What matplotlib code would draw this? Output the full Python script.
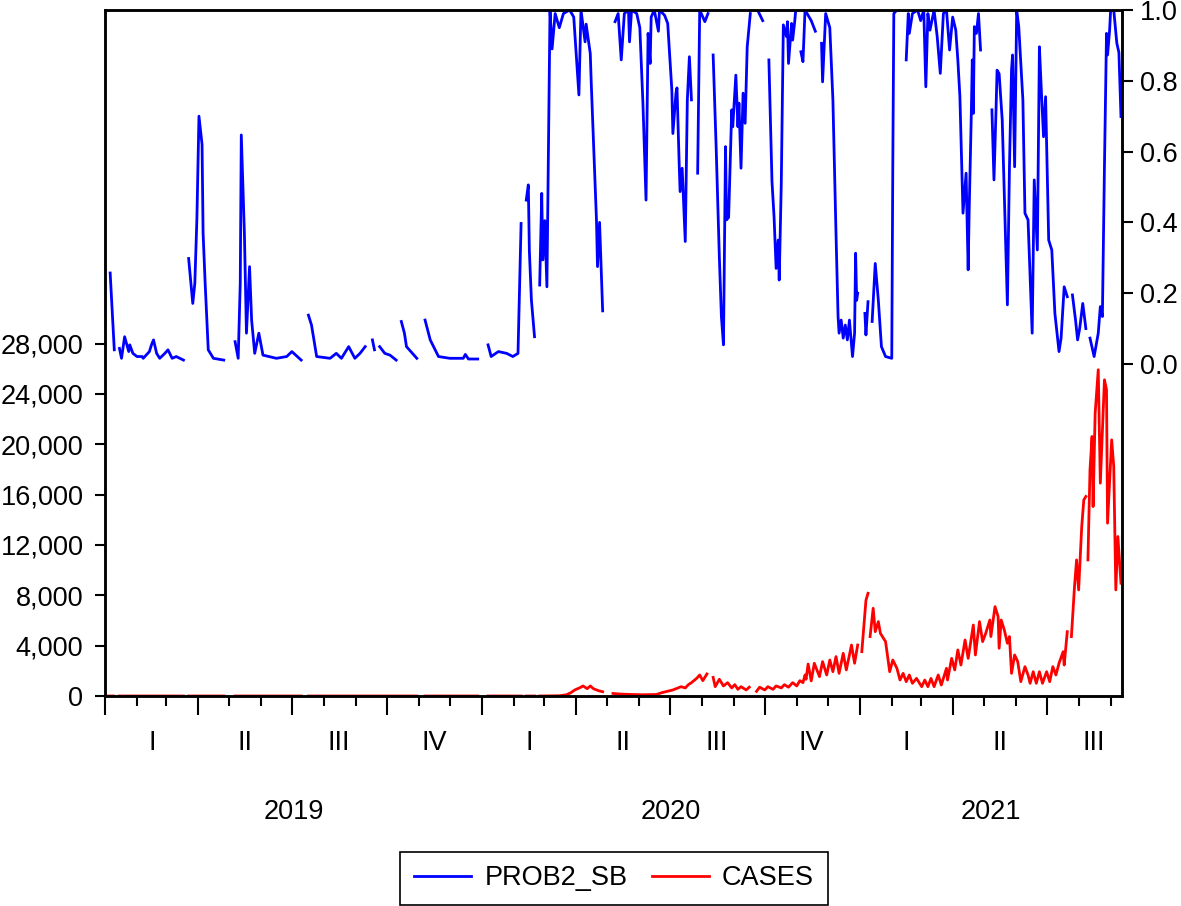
import numpy as np
import matplotlib.pyplot as plt
import matplotlib.dates as mdates
from matplotlib.ticker import FuncFormatter, NullFormatter

plt.rcParams['font.family'] = ['Liberation Sans', 'DejaVu Sans']
plt.rcParams['font.size'] = 19.5

START = np.datetime64('2019-01-01')
END = np.datetime64('2021-09-12')

# PROB2_SB (right axis): days since 2019-01-01, None = missing observation
prob_day = [
    5, 9, 11,
    14, 16, 19, 23, 24, 27, 31, 36, 37, 43, 45, 47, 50, 53, 58, 61, 65, 69, 76, 78,
    81, 85, 87, 89, 91, 94, 95, 97, 100, 105, 115, 120,
    126, 129, 131, 132, 135, 137, 140, 142, 145, 149, 153, 166, 176, 181, 190, 193,
    197, 200, 205, 218, 224, 229, 236, 242, 247, 252, 256,
    259, 261, 263,
    266, 271, 276, 282, 284,
    287, 290, 292, 302, 306,
    310, 315, 323, 334, 347, 349, 352, 361, 366,
    371, 374, 381, 389, 395, 400, 403, 405,
    408, 410, 411, 413, 416, 418,
    421, 423, 424, 426, 428, 431, 433, 436, 440, 444, 450, 454, 459, 461, 465, 466,
    470, 471, 474, 476, 477, 479, 482, 488,
    494, 497, 500, 503, 507, 508, 510, 515, 518, 521, 524, 526, 528, 529, 532, 536,
    537, 542, 545, 549, 550, 553, 554, 556, 557, 559, 562, 564, 566, 568, 571,
    574, 576, 581, 584, 586,
    589, 592, 595, 597, 599, 601, 602, 604, 607, 608, 611, 613, 614, 616, 618, 620,
    622, 625, 628,
    632, 637, 640,
    643, 645, 646, 648, 650, 652, 653, 655, 657, 660, 661, 662, 665, 666, 668, 669, 671,
    674, 676, 678, 680, 684, 688, 691,
    694, 695, 698, 702, 705, 708, 710, 711, 713, 715, 717, 719, 721, 724, 726, 727,
    728, 729, 732,
    736, 737, 739, 741,
    743, 746, 749, 752, 756, 762, 763, 764, 767, 770, 773,
    776, 778, 779, 782, 787, 790, 793, 795, 797, 799, 803, 806, 809, 812, 815, 818,
    821, 824, 826, 828, 830, 831, 834, 836, 837, 839, 840, 841, 842, 844, 846, 848, 853,
    859, 861, 863, 864, 866, 869, 872, 874, 876, 878, 879, 881, 883, 885, 889, 891,
    894, 898, 900, 903, 905, 907, 909, 911, 914, 917, 920, 924, 926, 929, 932, 934,
    937, 940, 942, 944, 947, 950, 952,
    954, 958, 962, 964, 966, 968, 970, 971, 973, 974, 977, 980, 982, 984,
]
prob_val = [
    0.257, 0.04, None,
    0.044, 0.016, 0.077, 0.035, 0.054, 0.03, 0.021, 0.021, 0.016, 0.035, 0.054, 0.068,
    0.03, 0.016, 0.03, 0.04, 0.016, 0.021, 0.011, None,
    0.298, 0.171, 0.228, 0.41, 0.70, 0.62, 0.37, 0.228, 0.04, 0.016, 0.011, None,
    0.063, 0.016, 0.228, 0.647, 0.37, 0.087, 0.275, 0.124, 0.03, 0.087, 0.025, 0.016,
    0.021, 0.035, 0.011, None,
    0.138, 0.11, 0.021, 0.016, 0.03, 0.016, 0.049, 0.016, 0.03, 0.049, None,
    0.068, 0.04, None,
    0.049, 0.03, 0.025, 0.011, None,
    0.12, 0.087, 0.049, 0.016, None,
    0.124, 0.068, 0.021, 0.016, 0.016, 0.027, 0.014, 0.014, None,
    0.054, 0.021, 0.035, 0.03, 0.021, 0.03, 0.397, None,
    0.463, 0.506, 0.32, 0.18, 0.077, None,
    0.223, 0.482, 0.294, 0.405, 0.218, 1.0, 0.89, 0.99, 0.95, 0.99, 1.0, 0.98, 0.76,
    1.0, 0.91, 0.96, 0.877, 0.79, 0.557, 0.407, 0.275, 0.40, 0.15, None,
    0.967, 0.99, 0.859, 0.99, 1.0, 0.91, 1.0, 0.99, 0.95, 0.737, 0.463, 0.934, 0.849,
    0.98, 1.0, 0.94, 1.0, 0.985, 0.962, 0.774, 0.651, 0.765, 0.78, 0.576, 0.487, 0.553,
    0.346, 0.746, 0.868, 0.746, None,
    0.539, 1.0, 0.967, 0.99, None,
    0.873, 0.605, 0.303, 0.134, 0.054, 0.614, 0.407, 0.414, 0.718, 0.67, 0.816, 0.67,
    0.737, 0.553, 0.765, 0.68, 0.896, 0.99, None,
    1.0, 0.97, None,
    0.859, 0.623, 0.515, 0.416, 0.27, 0.35, 0.237, 0.51, 0.958, 0.925, 0.967, 0.849,
    0.962, 0.915, 0.967, 1.0, None,
    0.882, 0.854, 1.0, 0.99, 0.97, 0.94, None,
    0.906, 0.797, 0.99, 0.95, 0.746, 0.369, 0.134, 0.087, 0.124, 0.073, 0.11, 0.068,
    0.124, 0.021, 0.087, 0.313, 0.18, 0.2, None,
    0.143, 0.082, 0.176, None,
    0.12, 0.284, 0.18, 0.049, 0.021, 0.016, 0.557, 0.99, 1.0, 1.0, None,
    0.859, 0.99, 0.934, 0.99, 1.0, 0.97, 1.0, 0.783, 0.99, 0.943, 1.0, 0.925, 0.821,
    0.99, 1.0, 0.887, 0.98, 0.943, 0.859, 0.755, 0.529, 0.426, 0.539, 0.266, 0.435,
    0.699, 0.859, 0.708, 0.953, 0.934, 0.99, 0.887, None,
    0.718, 0.52, 0.718, 0.83, 0.82, 0.689, 0.369, 0.167, 0.557, 0.831, 0.873, 0.557,
    1.0, 0.953, 0.746, 0.426, 0.407, 0.087, 0.52, 0.322, 0.896, 0.765, 0.642, 0.755,
    0.35, 0.322, 0.143, 0.035, 0.073, 0.218, 0.19, None,
    0.195, 0.124, 0.068, 0.1, 0.171, 0.1, None,
    0.073, 0.021, 0.087, 0.162, 0.134, 0.557, 0.934, 0.873, 0.943, 1.0, 1.0, 0.906,
    0.88, 0.699,
]

# CASES (left axis): days since 2019-01-01, None = missing observation
cases_day = [
    0, 8, 11, 14, 76, 78, 81, 115, 120, 126, 190, 193, 197, 302, 306,
    310, 361, 366, 371, 403, 405, 408, 416, 418,
    421, 440, 447, 451, 455, 460, 463, 467, 470, 473, 478, 482, 488,
    492, 500, 510, 520, 534, 540, 545, 550, 555, 558, 562, 565, 568, 573, 576, 579,
    583, 586,
    589, 591, 595, 599, 603, 607, 610, 613, 616, 621, 624, 628,
    631, 634, 639, 642, 647, 650, 655, 658, 662, 666, 670, 673, 676, 678, 679, 681,
    684, 687, 692, 695, 699, 702, 705, 708, 711, 715, 718, 723, 726, 729, 731,
    733, 737, 739, 740,
    741, 744, 746, 749, 751, 756, 760, 763, 767, 770, 773, 776, 779, 782, 786, 791,
    794, 797, 800, 803, 807, 810, 815, 816, 820, 823, 826, 829, 833, 836, 841, 843,
    847, 850, 853, 857, 858, 862, 865, 866, 868, 871, 874, 876, 878, 881, 884, 887,
    891, 894, 896, 899, 902, 905, 908, 912, 915, 918, 921, 924, 928, 929, 932, 934,
    936, 939, 941, 943, 946, 948, 950, 951,
    952, 954, 956, 957, 959, 962, 964, 968, 970, 971, 975, 977, 979, 981, 984,
]
cases_val = [
    0, 0, None, 0, 0, None, 0, 0, None, 0, 0, None, 0, 0, None,
    0, 0, None, 0, 0, None, 0, 0, None,
    0, 20, 100, 250, 480, 660, 800, 580, 800, 580, 420, 340, None,
    200, 150, 120, 100, 120, 280, 380, 480, 640, 740, 640, 900, 1060, 1400, 1670, 1220,
    1750, None,
    1480, 740, 1330, 800, 1060, 640, 900, 530, 740, 480, 700, None,
    370, 700, 480, 740, 530, 800, 640, 900, 700, 1060, 800, 1220, 1060, 1670, 1330, 2540,
    1200, 2600, 1540, 2730, 1670, 2860, 1930, 3130, 1800, 3390, 2070, 4050, 2600, 4050,
    None,
    3520, 7600, 8160, None,
    4720, 6970, 5110, 5910, 4980, 4320, 1930, 2860, 2200, 1270, 1800, 1140, 1670, 1010,
    1400, 740, 1270, 740, 1400, 740, 1670, 870, 2200, 1270, 2990, 2070, 3660, 2460,
    4450, 2990, 5640, 3260, 5910, 4320, 4980, 6040, 4720, 7100, 6310, 3790, 6040, 5250,
    4190, 4720, 1800, 3260, 2730, 1140, 2330, 1670, 1010, 1930, 1010, 1930, 1010, 1930,
    1140, 2330, 1670, 2600, 3520, 2460, 5110, None,
    4720, 8690, 10810, 8430, 13460, 15580, 15850, None,
    10810, 17970, 20620, 15050, 22470, 25920, 16910, 25120, 24330, 13730, 20350, 18230,
    8430, 12670, 8960,
]

left_ticks = [0, 4000, 8000, 12000, 16000, 20000, 24000, 28000]
right_ticks = [0.0, 0.2, 0.4, 0.6, 0.8, 1.0]
quarter_names = ['I', 'II', 'III', 'IV']
years = [2019, 2020, 2021]

prob_x = START + np.array(prob_day).astype('timedelta64[D]')
prob_y = np.array(prob_val, dtype=float)
cases_x = START + np.array(cases_day).astype('timedelta64[D]')
cases_y = np.array(cases_val, dtype=float)

fig = plt.figure(figsize=(11.81, 9.06), dpi=100)
ax = fig.add_axes([105 / 1181, 1 - 696 / 906, 1017 / 1181, 686 / 906])
ax2 = ax.twinx()

l_cases, = ax.plot(cases_x, cases_y, color='#ff0000', lw=2.0, label='CASES')
l_prob, = ax2.plot(prob_x, prob_y, color='#0000ff', lw=2.0, label='PROB2_SB')

ax.set_xlim(START, END)
ax.set_ylim(0, 54500)
ax2.set_ylim(-0.938, 1.0)

ax.set_yticks(left_ticks)
ax.yaxis.set_major_formatter(FuncFormatter(lambda v, p: f'{v:,.0f}'))
ax2.set_yticks(right_ticks)
ax2.yaxis.set_major_formatter(FuncFormatter(lambda v, p: f'{v:.1f}'))

ax.xaxis.set_major_locator(mdates.MonthLocator(bymonth=[1, 4, 7, 10]))
ax.xaxis.set_minor_locator(mdates.MonthLocator())
ax.xaxis.set_major_formatter(NullFormatter())
ax.xaxis.set_minor_formatter(NullFormatter())

ax.tick_params(axis='x', which='major', direction='out', length=14, width=1.5)
ax.tick_params(axis='x', which='minor', direction='out', length=7, width=1.5)
ax.tick_params(axis='y', direction='out', length=7.5, width=1.5, pad=8)
ax2.tick_params(axis='y', direction='out', length=8, width=1.5, pad=5)

for a in (ax, ax2):
    for s in a.spines.values():
        s.set_linewidth(1.8)

# quarter and year labels under the axis
trans = ax.get_xaxis_transform()
for yr in years:
    for q, name in enumerate(quarter_names):
        qs = np.datetime64(f'{yr}-{3 * q + 1:02d}-01')
        if qs >= END:
            break
        ax.text(mdates.date2num(qs) + 45.5, -0.0685, name, transform=trans,
                ha='center', va='center')
    y0 = mdates.date2num(np.datetime64(f'{yr}-01-01'))
    y1 = mdates.date2num(min(np.datetime64(f'{yr + 1}-01-01'), END))
    ax.text((y0 + y1) / 2, -0.169, str(yr), transform=trans, ha='center', va='center')

leg = fig.legend([l_prob, l_cases], ['PROB2_SB', 'CASES'], loc='lower center',
                 bbox_to_anchor=(614 / 1181, 1 / 906), ncol=2, frameon=True,
                 fancybox=False, edgecolor='black', framealpha=1,
                 handlelength=2.1, handletextpad=0.5, columnspacing=0.9,
                 borderpad=0.5, borderaxespad=0)
leg.get_frame().set_linewidth(1.2)
for ln in leg.get_lines():
    ln.set_linewidth(2.0)

fig.savefig('out.png', dpi=100)
